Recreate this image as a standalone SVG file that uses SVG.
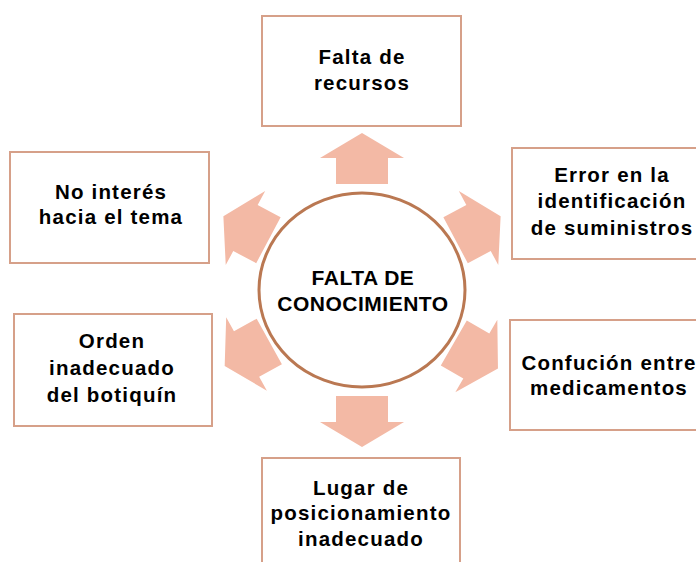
<svg xmlns="http://www.w3.org/2000/svg" width="696" height="562" viewBox="0 0 696 562">
<defs>
<style>
.box{fill:#ffffff;stroke:#d6a089;stroke-width:2}
.arr{fill:#f3b9a5}
.hub{fill:#ffffff;stroke:#ba7852;stroke-width:3}
text{font-family:"Liberation Sans",Arial,sans-serif;font-weight:bold;font-size:20.5px;fill:#000;text-anchor:middle;letter-spacing:1.2px}
.ct{font-size:21px;letter-spacing:0.5px}
</style>
<polygon id="ar" points="106,-26 132,-26 132,-42 157,0 132,42 132,26 106,26"/>
</defs>
<rect width="696" height="562" fill="#ffffff"/>
<g id="connectors">
<use href="#ar" class="arr" transform="translate(362,290) rotate(-90)"/>
<use href="#ar" class="arr" transform="translate(362,290) rotate(90)"/>
<use href="#ar" class="arr" transform="translate(362,290) rotate(-28)"/>
<use href="#ar" class="arr" transform="translate(362,290) rotate(30)"/>
<use href="#ar" class="arr" transform="translate(362,290) rotate(151)"/>
<use href="#ar" class="arr" transform="translate(362,290) rotate(208)"/>
</g>
<g id="center">
<ellipse class="hub" cx="362" cy="290" rx="103" ry="97"/>
<text class="ct" x="363" y="285">FALTA DE</text>
<text class="ct" x="363" y="311">CONOCIMIENTO</text>
</g>
<g id="n-recursos">
<rect class="box" x="262" y="16" width="199" height="110"/>
<text x="362" y="64">Falta de</text>
<text x="362" y="90">recursos</text>
</g>
<g id="n-error">
<rect class="box" x="512" y="148" width="200" height="111"/>
<text x="612" y="182">Error en la</text>
<text x="612" y="208">identificación</text>
<text x="612" y="235">de suministros</text>
</g>
<g id="n-confucion">
<rect class="box" x="510" y="320" width="200" height="110"/>
<text x="609" y="370">Confución entre</text>
<text x="609" y="395">medicamentos</text>
</g>
<g id="n-lugar">
<rect class="box" x="262" y="458" width="198" height="120"/>
<text x="361" y="495">Lugar de</text>
<text x="361" y="520">posicionamiento</text>
<text x="361" y="546">inadecuado</text>
</g>
<g id="n-orden">
<rect class="box" x="14" y="314" width="198" height="112"/>
<text x="112" y="348">Orden</text>
<text x="112" y="375">inadecuado</text>
<text x="112" y="402">del botiquín</text>
</g>
<g id="n-interes">
<rect class="box" x="10" y="152" width="199" height="111"/>
<text x="111" y="199">No interés</text>
<text x="111" y="224">hacia el tema</text>
</g>
</svg>
